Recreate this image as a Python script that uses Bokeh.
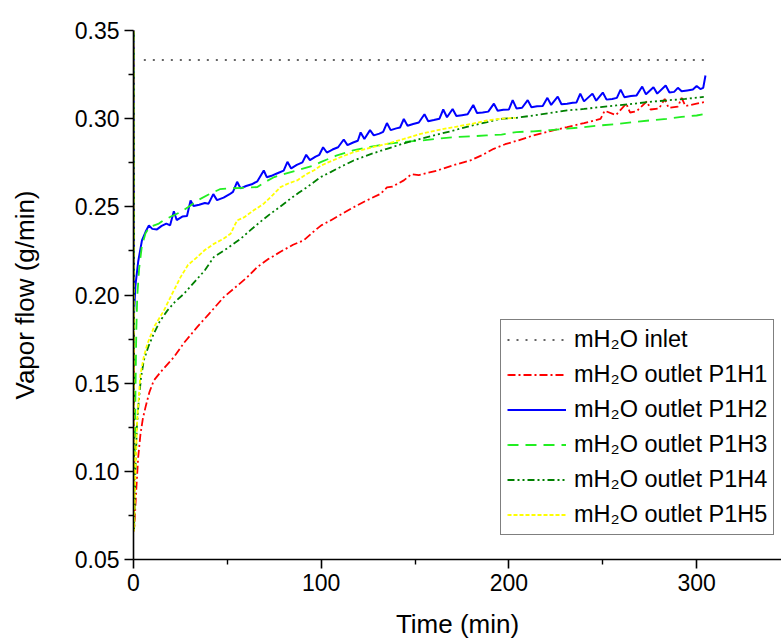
from bokeh.plotting import figure
from bokeh.models import Legend, LegendItem, FixedTicker, NumeralTickFormatter, Range1d
from bokeh.embed import file_html
from bokeh.resources import INLINE

# ---- data ----
inlet_x = [5.5, 305.0]
inlet_y = [0.3333, 0.3333]

h1_x = [0, 0.3, 1.5, 2.5, 3.7, 5, 6.4, 8.5, 10.8, 15, 21.5, 27, 33.9, 40, 48.1, 55, 60.5, 65.9, 72, 78.3,
        85, 90.7, 96, 100, 105, 111, 117.3, 124, 131.6, 135, 138, 144, 148, 152, 161.8, 170, 179.5, 186,
        191.9, 198, 204.4, 213, 222, 231, 240, 248.8, 251, 257, 262.5, 264.5, 268, 273.5, 275.5, 280,
        283, 285, 290, 292, 294, 300, 304.7]
h1_y = [0.36, 0.066, 0.09, 0.108, 0.121, 0.13, 0.1364, 0.145, 0.1515, 0.157, 0.1647, 0.173, 0.1818, 0.189,
        0.1988, 0.205, 0.21, 0.2158, 0.2205, 0.2245, 0.2285, 0.231, 0.236, 0.2395, 0.2423, 0.246, 0.2498,
        0.2535, 0.2574, 0.261, 0.2615, 0.265, 0.2685, 0.268, 0.2706, 0.2735, 0.2763, 0.2795, 0.2829, 0.2855,
        0.2875, 0.2905, 0.293, 0.2952, 0.2975, 0.2999, 0.3045, 0.302, 0.3085, 0.3035, 0.3042, 0.3098,
        0.3052, 0.3058, 0.3112, 0.3062, 0.3068, 0.3118, 0.3072, 0.3085, 0.3095]

h2_x = [0, 0.3, 1, 2.5, 4.5, 6.5, 8.2, 10, 12.5, 15, 17.5, 19.5, 21.5, 23, 26, 28.5, 30.4, 32, 35, 38, 40,
        42.5, 44.5, 48, 51, 53, 55.2, 57, 60, 63, 66, 69.4, 71, 74, 77, 80, 82, 84, 87, 90, 92, 94, 97, 99,
        101, 103, 106, 109, 112, 114, 117, 119.5, 121, 123, 126, 128, 131, 133, 135, 137, 140, 142, 144,
        146, 149, 152, 155, 157, 160, 163, 165, 167, 170, 172, 175, 178, 181, 183, 186, 189, 192, 194,
        197, 200, 202, 204, 207, 210, 212, 215, 218, 220.5, 222.5, 226, 228, 231, 234, 236, 238, 240,
        244.5, 246.5, 250, 252, 255, 257.5, 259.5, 261.5, 265, 268, 271, 273, 277, 279, 283.5, 285.5,
        288, 290, 292, 295, 298, 300, 302, 303.5, 304.7]
h2_y = [0.36, 0.19, 0.205, 0.219, 0.231, 0.236, 0.2395, 0.2375, 0.2372, 0.2392, 0.2405, 0.2395, 0.2475,
        0.2425, 0.2445, 0.2448, 0.2536, 0.2505, 0.2512, 0.2522, 0.2518, 0.2572, 0.2538, 0.2552, 0.257,
        0.2585, 0.2642, 0.2605, 0.2618, 0.2628, 0.2645, 0.2706, 0.2668, 0.2678, 0.2692, 0.2705, 0.2755,
        0.2718, 0.2738, 0.2752, 0.2795, 0.2765, 0.2785, 0.2795, 0.2838, 0.2808, 0.2825, 0.2838, 0.2882,
        0.285, 0.2865, 0.2875, 0.2922, 0.2885, 0.2935, 0.2905, 0.2915, 0.2925, 0.2975, 0.2935, 0.2945,
        0.295, 0.2998, 0.296, 0.297, 0.2978, 0.3025, 0.2985, 0.2992, 0.3, 0.3052, 0.3008, 0.3055, 0.3015,
        0.302, 0.3025, 0.3078, 0.3032, 0.3035, 0.304, 0.3085, 0.3045, 0.305, 0.3052, 0.3105, 0.3058,
        0.3062, 0.3105, 0.3065, 0.307, 0.3072, 0.3118, 0.3078, 0.3125, 0.3082, 0.3085, 0.309, 0.3092,
        0.3142, 0.3098, 0.3142, 0.3102, 0.3148, 0.3108, 0.3112, 0.3118, 0.3165, 0.3122, 0.3128, 0.3132,
        0.3182, 0.3138, 0.3178, 0.3142, 0.3188, 0.3148, 0.3152, 0.3175, 0.3155, 0.316, 0.3165, 0.3185,
        0.3168, 0.3175, 0.3245]

h3_x = [0, 0.3, 1, 1.5, 2, 3, 4.5, 6.4, 8.5, 11, 13.5, 16, 20, 25, 30, 34, 40, 46, 52, 58, 66, 70, 75, 81,
        87, 96, 100, 108, 117, 126, 135, 144, 153, 162, 171, 180, 188, 196, 204, 213, 222, 231, 240, 249,
        258, 266, 275, 284, 292, 300, 304.7]
h3_y = [0.36, 0.066, 0.14, 0.18, 0.199, 0.215, 0.228, 0.235, 0.2385, 0.2395, 0.2405, 0.2423, 0.2445, 0.247,
        0.2505, 0.2536, 0.257, 0.26, 0.2605, 0.2608, 0.2612, 0.264, 0.2669, 0.2688, 0.2706, 0.2735, 0.2755,
        0.279, 0.282, 0.284, 0.2857, 0.2868, 0.2876, 0.2886, 0.2895, 0.29, 0.2905, 0.291, 0.2924, 0.2928,
        0.2935, 0.2943, 0.2952, 0.2962, 0.297, 0.298, 0.299, 0.2999, 0.301, 0.3018, 0.3028]

h4_x = [0, 0.3, 1, 1.8, 2.8, 4, 5.5, 8, 10.8, 14, 17.9, 22, 26.8, 33, 38, 42.8, 50, 57, 62, 67, 73, 78,
        83.6, 88, 92.5, 99.6, 105, 111, 117.3, 126, 135, 144, 153, 162, 170.6, 179, 188.4, 195.5, 204,
        213, 222, 231, 240, 248.8, 257, 266.5, 275, 284.3, 294, 303.8]
h4_y = [0.36, 0.066, 0.1, 0.125, 0.14, 0.153, 0.163, 0.171, 0.178, 0.185, 0.191, 0.196, 0.2006, 0.208,
        0.214, 0.2215, 0.2265, 0.2318, 0.2365, 0.241, 0.2461, 0.25, 0.2546, 0.258, 0.2612, 0.2668, 0.2697,
        0.273, 0.2763, 0.2798, 0.2829, 0.286, 0.2886, 0.291, 0.2933, 0.2958, 0.298, 0.2999, 0.3005, 0.3018,
        0.3032, 0.3047, 0.3055, 0.3066, 0.3075, 0.3085, 0.3095, 0.3104, 0.3112, 0.3123]

h5_x = [0, 0.3, 1, 2, 3.7, 5.5, 7.3, 11, 16.1, 20.6, 25, 29, 33.9, 38, 42.8, 48.1, 51.7, 55.2, 58.8, 64,
        69.4, 74, 78.3, 83, 87.2, 92, 96, 100, 105, 111, 117.3, 126, 135, 144, 153, 162, 170.6, 180,
        188.4, 196, 203.5]
h5_y = [0.36, 0.066, 0.1, 0.13, 0.155, 0.165, 0.172, 0.182, 0.191, 0.2007, 0.21, 0.217, 0.2215, 0.2255,
        0.229, 0.232, 0.2347, 0.2423, 0.244, 0.248, 0.2518, 0.2565, 0.2612, 0.2635, 0.265, 0.2685, 0.2706,
        0.2735, 0.2758, 0.2785, 0.281, 0.2835, 0.2857, 0.2885, 0.2914, 0.2935, 0.2952, 0.297, 0.299, 0.3,
        0.3005]

labels = ["mH\u2082O inlet", "mH\u2082O outlet P1H1", "mH\u2082O outlet P1H2", "mH\u2082O outlet P1H3",
          "mH\u2082O outlet P1H4", "mH\u2082O outlet P1H5"]
x_ticks = [0, 100, 200, 300]
x_minor = [50, 150, 250]
y_ticks = [0.05, 0.10, 0.15, 0.20, 0.25, 0.30, 0.35]
y_minor = [0.075, 0.125, 0.175, 0.225, 0.275, 0.325]

FONT = "Liberation Sans"

p = figure(width=781, height=642, output_backend="svg", toolbar_location=None,
           x_range=Range1d(0, 345.2), y_range=Range1d(0.05, 0.35),
           min_border_left=133, min_border_right=0, min_border_top=30, min_border_bottom=83,
           x_axis_label="Time (min)", y_axis_label="Vapor flow (g/min)")
p.xgrid.visible = False
p.ygrid.visible = False
p.outline_line_color = None
p.background_fill_color = "white"
p.border_fill_color = "white"

p.xaxis.ticker = FixedTicker(ticks=x_ticks, minor_ticks=x_minor)
p.yaxis.ticker = FixedTicker(ticks=y_ticks, minor_ticks=y_minor)
p.yaxis.formatter = NumeralTickFormatter(format="0.00")

for ax in (p.xaxis[0], p.yaxis[0]):
    ax.axis_line_color = "black"
    ax.axis_line_width = 1.6
    ax.major_tick_line_color = "black"
    ax.major_tick_line_width = 1.6
    ax.minor_tick_line_color = "black"
    ax.minor_tick_line_width = 1.4
    ax.major_tick_out = 9
    ax.major_tick_in = 0
    ax.minor_tick_out = 5
    ax.minor_tick_in = 0
    ax.major_label_text_font = FONT
    ax.major_label_text_font_size = "23px"
    ax.major_label_text_color = "black"
    ax.major_label_standoff = 5
    ax.axis_label_text_font = FONT
    ax.axis_label_text_font_size = "26px"
    ax.axis_label_text_font_style = "normal"
    ax.axis_label_text_color = "black"
p.xaxis.axis_label_standoff = 15
p.yaxis.axis_label_standoff = 32

r0 = p.line(inlet_x, inlet_y, line_color="#333333", line_width=1.6, line_dash="2 7")
r1 = p.line(h1_x, h1_y, line_color="#FF0000", line_width=1.8, line_dash="8 3 2 3")
r2 = p.line(h2_x, h2_y, line_color="#0000FF", line_width=2.0)
r3 = p.line(h3_x, h3_y, line_color="#22EE22", line_width=1.8, line_dash="11 7")
r4 = p.line(h4_x, h4_y, line_color="#008000", line_width=1.8, line_dash="7 3 2 3 2 3")
r5 = p.line(h5_x, h5_y, line_color="#FFFF00", line_width=1.8, line_dash="4 2")

items = [LegendItem(label=lab, renderers=[r]) for lab, r in zip(labels, [r0, r1, r2, r3, r4, r5])]
legend = Legend(items=items, location=(367, 24), orientation="vertical",
                border_line_color="black", border_line_width=1, background_fill_color="white",
                background_fill_alpha=1.0, padding=6, spacing=8, margin=0,
                label_height=27, glyph_height=27, glyph_width=59, label_standoff=8,
                label_text_font=FONT, label_text_font_size="23.5px", label_text_color="black")
p.add_layout(legend)

open("out.html", "w").write(file_html(p, INLINE))
